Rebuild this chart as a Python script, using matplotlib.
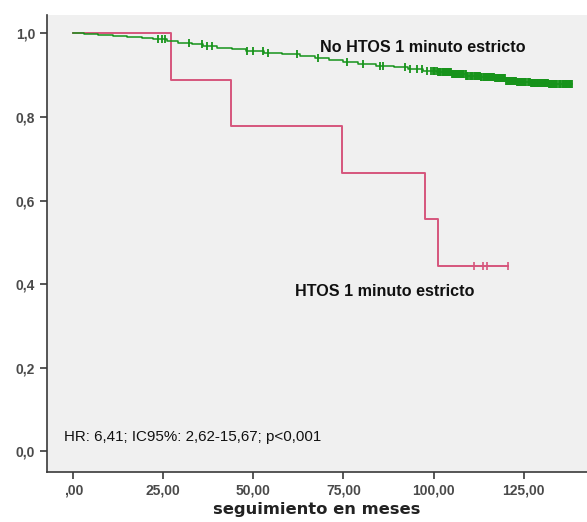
import matplotlib
matplotlib.use("Agg")
import matplotlib.pyplot as plt

plt.rcParams['font.family'] = ['Liberation Sans', 'DejaVu Sans']

# Kaplan-Meier: grupo HTOS 1 minuto estricto (n=9)
htos_t = [0, 27.1, 43.8, 74.7, 97.7, 101.2]
htos_s = [1.0, 0.889, 0.778, 0.667, 0.556, 0.444]
htos_end = 120.8
htos_cens = [111.3, 113.8, 114.9, 120.8]

# grupo No HTOS 1 minuto estricto
no_t = [0, 3, 7, 11, 15, 19, 22, 26, 29, 33, 36, 40, 44, 48, 53, 58, 63, 67,
        71, 75, 79, 84, 89, 93, 97, 101, 105, 109, 113, 117, 120, 123, 127,
        132, 136]
no_s = [1.0, 0.998, 0.996, 0.994, 0.991, 0.988, 0.986, 0.982, 0.978, 0.974,
        0.970, 0.966, 0.962, 0.957, 0.954, 0.951, 0.947, 0.942, 0.937, 0.931,
        0.927, 0.923, 0.920, 0.916, 0.911, 0.907, 0.903, 0.899, 0.896, 0.893,
        0.887, 0.883, 0.881, 0.879, 0.878]
no_end = 138.5
no_cens = [23.5, 24.6, 25.5, 32.1, 35.7, 37.1, 38.5, 48.2, 49.9, 52.7, 54.1,
           62.1, 68.0, 76.0, 80.5, 85.2, 86.0, 92.1, 93.5, 95.5, 96.9, 98.3,
           99.4, 99.8, 100.2, 100.4, 100.9, 101.3, 101.6, 101.9, 102.2, 102.5,
           102.7, 103.0, 103.3, 103.6, 103.8, 104.1, 104.4, 104.6, 104.9,
           105.2, 105.5, 105.8, 106.0, 106.2, 106.5, 106.8, 107.1, 107.3,
           107.6, 107.9, 108.1, 108.3, 108.6, 108.9, 109.1, 109.4, 109.7,
           110.0, 110.3, 110.6, 110.8, 111.2, 111.5, 111.7, 112.0, 112.3,
           112.6, 112.9, 113.1, 113.3, 113.6, 113.9, 114.2, 114.5, 114.8,
           115.1, 115.4, 115.7, 116.0, 116.3, 116.6, 116.8, 117.1, 117.3,
           117.6, 117.9, 118.2, 118.4, 118.7, 119.0, 119.3, 119.6, 119.8,
           120.1, 120.4, 120.7, 121.0, 121.2, 121.4, 121.7, 122.0, 122.3,
           122.5, 122.8, 123.1, 123.4, 123.7, 124.0, 124.3, 124.6, 124.9,
           125.2, 125.5, 125.8, 126.1, 126.4, 126.7, 127.0, 127.2, 127.4,
           127.7, 127.9, 128.1, 128.3, 128.6, 128.8, 129.0, 129.2, 129.5,
           129.8, 130.1, 130.4, 130.6, 130.9, 131.0, 131.3, 131.5, 131.8,
           132.0, 132.3, 132.6, 132.9, 133.2, 133.5, 133.8, 134.1, 134.4,
           134.7, 135.0, 135.2, 135.5, 135.8, 136.0, 136.2, 136.4, 136.7,
           136.9, 137.1, 137.3, 137.6, 137.8, 138.0, 138.2, 138.5]

x_ticks = [0, 25, 50, 75, 100, 125]
x_labels = [',00', '25,00', '50,00', '75,00', '100,00', '125,00']
y_ticks = [0.0, 0.2, 0.4, 0.6, 0.8, 1.0]
y_labels = ['0,0', '0,2', '0,4', '0,6', '0,8', '1,0']

GREEN = '#16931a'
RED = '#d6557c'


def surv_at(times, surv, t):
    s = surv[0]
    for ti, si in zip(times, surv):
        if ti <= t:
            s = si
    return s


fig = plt.figure(figsize=(5.87, 5.22), dpi=100)
ax = fig.add_axes([0.080, 0.096, 0.920, 0.876])
ax.set_facecolor('#f0f0f0')

# curvas escalonadas
ax.step(htos_t + [htos_end], htos_s + [htos_s[-1]], where='post',
        color=RED, lw=1.4, zorder=3)
ax.step(no_t + [no_end], no_s + [no_s[-1]], where='post',
        color=GREEN, lw=1.1, zorder=4)

# marcas de censura
ax.plot(no_cens, [surv_at(no_t, no_s, t) for t in no_cens], ls='none',
        marker='|', ms=6, mew=1.3, color=GREEN, zorder=4)
ax.plot(htos_cens, [surv_at(htos_t, htos_s, t) for t in htos_cens], ls='none',
        marker='|', ms=6, mew=1.2, color=RED, zorder=3)

ax.text(68.5, 0.967, 'No HTOS 1 minuto estricto', fontsize=11.6,
        fontweight='bold', va='center', color='#111111')
ax.text(61.6, 0.382, 'HTOS 1 minuto estricto', fontsize=11.6,
        fontweight='bold', va='center', color='#111111')
ax.text(-2.6, 0.035, 'HR: 6,41; IC95%: 2,62-15,67; p<0,001', fontsize=10.9,
        va='center', color='#111111')

ax.set_xlim(-7.3, 142.6)
ax.set_ylim(-0.049, 1.045)
ax.set_xticks(x_ticks)
ax.set_xticklabels(x_labels)
ax.set_yticks(y_ticks)
ax.set_yticklabels(y_labels)

for side in ('top', 'right'):
    ax.spines[side].set_visible(False)
for side in ('left', 'bottom'):
    ax.spines[side].set_color('#3a3a3a')
    ax.spines[side].set_linewidth(1.2)
ax.tick_params(colors='#3a3a3a', labelcolor='#4a4a4a', labelsize=10,
               length=5, width=1.2)
for lbl in ax.get_xticklabels() + ax.get_yticklabels():
    lbl.set_fontweight('bold')

ax.set_xlabel('seguimiento en meses', family='DejaVu Sans', fontsize=11.8,
              fontweight='bold', color='#222222', labelpad=3)

fig.savefig('out.png', dpi=100, facecolor='white')
